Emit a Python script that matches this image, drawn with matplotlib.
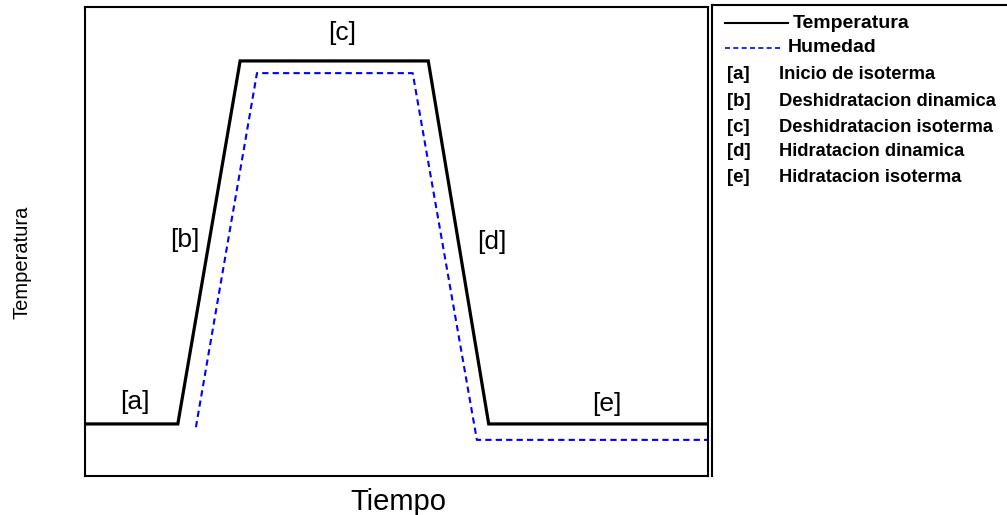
import matplotlib
matplotlib.use("Agg")
import matplotlib.pyplot as plt
from matplotlib.lines import Line2D

plt.rcParams["font.family"] = ["Liberation Sans", "DejaVu Sans"]

# --- Datos (unidades arbitrarias, eje 0-100)
t_temp = [0, 14.9, 24.9, 55.1, 64.8, 100]
temp = [11.1, 11.1, 88.5, 88.5, 11.1, 11.1]

t_hum = [17.8, 27.6, 52.6, 62.9, 100]
hum = [10.4, 85.9, 85.9, 7.7, 7.7]

etiquetas = ["[a]", "[b]", "[c]", "[d]", "[e]"]
etiq_x = [8.0, 16.1, 41.3, 65.3, 83.8]
etiq_y = [15.8, 50.3, 94.5, 49.9, 15.4]

descripciones = ["Inicio de isoterma", "Deshidratacion dinamica",
                 "Deshidratacion isoterma", "Hidratacion dinamica",
                 "Hidratacion isoterma"]

fig = plt.figure(figsize=(10.07, 5.15), dpi=100)
ax = fig.add_axes([85 / 1007, 39 / 515, 623 / 1007, 469 / 515])

ax.plot(t_temp, temp, color="black", lw=2.3, solid_joinstyle="miter")
ax.plot(t_hum, hum, color="blue", lw=1.5, ls=(0, (3, 2)))

for lab, x, y in zip(etiquetas, etiq_x, etiq_y):
    ax.text(x, y, lab, fontsize=19, ha="center", va="center")

ax.set_xlim(0, 100)
ax.set_ylim(0, 100)
ax.set_xticks([])
ax.set_yticks([])
for s in ax.spines.values():
    s.set_linewidth(1.5)

def fx(px):
    return px / 1007

def fy(py):
    return 1 - py / 515

fig.text(fx(398), fy(502), "Tiempo", fontsize=21, ha="center", va="center")
fig.text(fx(22), fy(262), "Temperatura", fontsize=14.5, rotation=90,
         ha="center", va="center")

# --- Leyenda manual (solo borde izquierdo y superior visibles)
fig.add_artist(Line2D([fx(712), fx(712)], [fy(476), fy(5)], color="black", lw=1.5,
                      transform=fig.transFigure))
fig.add_artist(Line2D([fx(712), fx(1010)], [fy(5), fy(5)], color="black", lw=1.5,
                      transform=fig.transFigure))

fig.add_artist(Line2D([fx(725), fx(788)], [fy(23), fy(23)], color="black", lw=1.5,
                      transform=fig.transFigure))
fig.text(fx(793), fy(23), "Temperatura", fontsize=14, fontweight="bold", va="center")
fig.add_artist(Line2D([fx(725), fx(781)], [fy(48), fy(48)], color="blue", lw=1.2,
                      ls=(0, (3, 2)), transform=fig.transFigure))
fig.text(fx(788), fy(48), "Humedad", fontsize=14, fontweight="bold", va="center")

filas = [75, 101, 127, 152, 177]
for lab, desc, py in zip(etiquetas, descripciones, filas):
    fig.text(fx(727), fy(py), lab, fontsize=13.5, fontweight="bold", va="center")
    fig.text(fx(779), fy(py), desc, fontsize=13.2, fontweight="bold", va="center")

fig.savefig("out.png", dpi=100)
